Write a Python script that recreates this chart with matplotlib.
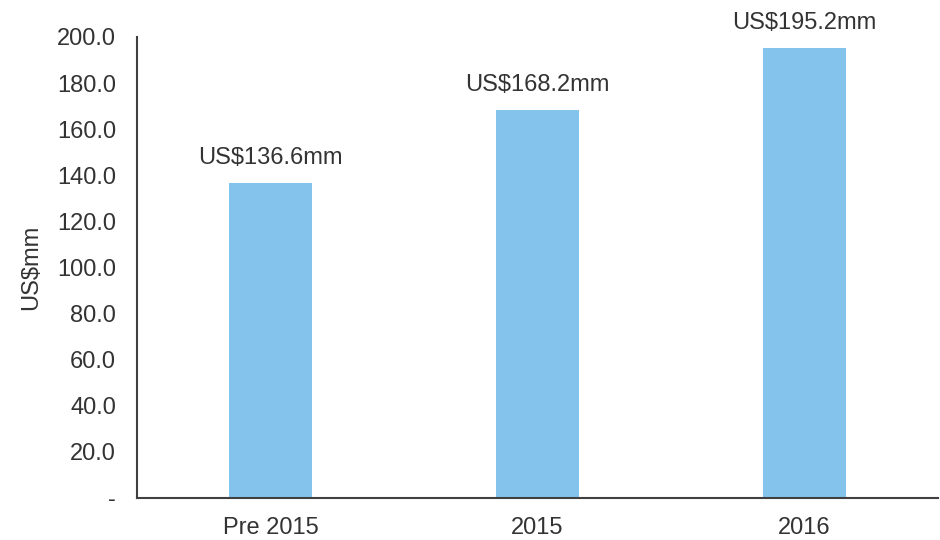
import matplotlib
matplotlib.use("Agg")
import matplotlib.pyplot as plt
from matplotlib.ticker import FuncFormatter

plt.rcParams['font.family'] = ['Liberation Sans', 'DejaVu Sans']

categories = ['Pre 2015', '2015', '2016']
values = [136.6, 168.2, 195.2]
labels = ['US$136.6mm', 'US$168.2mm', 'US$195.2mm']
y_ticks = [0, 20, 40, 60, 80, 100, 120, 140, 160, 180, 200]

text_color = '#333333'
bar_color = '#84C3EC'

fig = plt.figure(figsize=(9.4, 5.4), dpi=100)
ax = fig.add_axes([0.1457, 0.0778, 0.8523, 0.8537])

x = range(len(categories))
bars = ax.bar(x, values, width=0.31, color=bar_color)

for xi, v, lab in zip(x, values, labels):
    ax.annotate(lab, (xi, v), xytext=(0, 10), textcoords='offset points',
                ha='center', va='bottom', fontsize=17, color=text_color)

ax.set_xlim(-0.5, 2.5)
ax.set_ylim(0, 200)
ax.set_yticks(y_ticks)
ax.yaxis.set_major_formatter(FuncFormatter(lambda v, p: '-' if v == 0 else f'{v:.1f}'))
ax.set_xticks(list(x))
ax.set_xticklabels(categories)
ax.tick_params(axis='both', length=0, labelsize=17, labelcolor=text_color)
ax.tick_params(axis='y', pad=15)
ax.tick_params(axis='x', pad=14)
ax.set_ylabel('US$mm', fontsize=17, color=text_color, labelpad=11)

for s in ['top', 'right']:
    ax.spines[s].set_visible(False)
for s in ['left', 'bottom']:
    ax.spines[s].set_color('#404040')
    ax.spines[s].set_linewidth(1.5)

fig.savefig('out.png', dpi=100)
